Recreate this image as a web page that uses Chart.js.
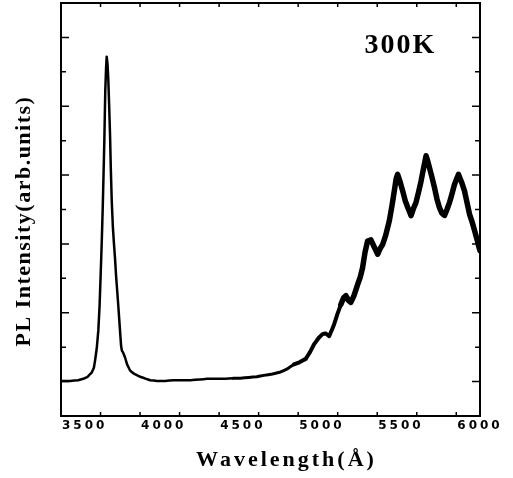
<!DOCTYPE html>
<html>
<head>
<meta charset="utf-8">
<script src="https://cdn.jsdelivr.net/npm/chart.js@4.4.1/dist/chart.umd.min.js"></script>
<style>
  html, body { margin: 0; padding: 0; background: #fff; }
  #wrap { width: 513px; height: 478px; }
</style>
</head>
<body>
<div id="wrap"><canvas id="plChart" width="513" height="478"></canvas></div>
<script>
// PL spectrum at 300K (arb. units)
const wavelength = [
  3350, 3408, 3458, 3491, 3518, 3544, 3558, 3565, 3576, 3586,
  3594, 3601, 3608, 3614, 3619, 3624, 3630, 3635, 3639, 3644,
  3649, 3654, 3660, 3665, 3671, 3678, 3685, 3692, 3698, 3706,
  3713, 3720, 3726, 3730, 3735, 3743, 3755, 3768, 3787, 3808,
  3851, 3888, 3914, 3958, 4008, 4062, 4108, 4168, 4228, 4274,
  4328, 4388, 4438, 4485, 4538, 4588, 4633, 4688, 4739, 4778,
  4823, 4858, 4898, 4923, 4950, 4978, 5004, 5023, 5046, 5063,
  5077, 5098, 5120, 5138, 5151, 5168, 5183, 5203, 5226, 5243,
  5257, 5273, 5289, 5310, 5328, 5353, 5368, 5384, 5403, 5426,
  5443, 5458, 5470, 5479, 5495, 5511, 5528, 5543, 5564, 5580,
  5595, 5611, 5627, 5643, 5659, 5670, 5680, 5696, 5712, 5728,
  5743, 5758, 5775, 5791, 5807, 5823, 5838, 5853, 5864, 5883,
  5902, 5918, 5934, 5950, 5966, 5983, 5995, 6000
];
const intensity = [
  0.01, 0.01, 0.02, 0.04, 0.07, 0.13, 0.20, 0.30, 0.48, 0.74,
  1.10, 1.56, 2.05, 2.53, 3.00, 3.49, 4.22, 4.55, 4.72, 4.62,
  4.40, 4.05, 3.60, 3.10, 2.62, 2.25, 2.00, 1.78, 1.55, 1.30,
  1.08, 0.85, 0.65, 0.52, 0.45, 0.42, 0.35, 0.25, 0.16, 0.12,
  0.07, 0.04, 0.02, 0.01, 0.01, 0.02, 0.02, 0.02, 0.03, 0.04,
  0.04, 0.04, 0.05, 0.05, 0.06, 0.07, 0.09, 0.11, 0.14, 0.18,
  0.25, 0.28, 0.33, 0.42, 0.54, 0.63, 0.69, 0.70, 0.66, 0.75,
  0.83, 0.98, 1.12, 1.22, 1.25, 1.18, 1.15, 1.25, 1.41, 1.52,
  1.65, 1.88, 2.04, 2.06, 1.97, 1.85, 1.93, 1.99, 2.12, 2.33,
  2.55, 2.77, 2.95, 3.01, 2.90, 2.77, 2.62, 2.53, 2.41, 2.52,
  2.60, 2.75, 2.91, 3.10, 3.28, 3.20, 3.11, 2.97, 2.82, 2.65,
  2.53, 2.45, 2.41, 2.50, 2.60, 2.73, 2.86, 2.95, 3.01, 2.90,
  2.77, 2.60, 2.43, 2.32, 2.19, 2.05, 1.94, 1.90
];

const xTicks = [3500, 4000, 4500, 5000, 5500, 6000];
const xMinorStep = 250;
const yMinorStep = 0.5;
const xTitle = 'Wavelength(Å)';
const yTitle = 'PL Intensity(arb.units)';
const tempLabel = '300K';

const points = wavelength.map((w, i) => ({ x: w, y: intensity[i] }));

// ticks pointing inwards on all four sides, frame, labels and titles
const framePlugin = {
  id: 'frame',
  afterDraw(chart) {
    const ctx = chart.ctx;
    const a = chart.chartArea;
    const xs = chart.scales.x;
    const ys = chart.scales.y;
    ctx.save();
    ctx.strokeStyle = '#000';
    ctx.lineWidth = 2;
    ctx.strokeRect(a.left, a.top, a.right - a.left, a.bottom - a.top);

    ctx.lineWidth = 1.5;
    ctx.beginPath();
    for (let v = xs.min; v <= xs.max; v += xMinorStep) {
      const px = xs.getPixelForValue(v);
      const len = v % 500 === 0 ? 7 : 4;
      ctx.moveTo(px, a.bottom); ctx.lineTo(px, a.bottom - len);
      ctx.moveTo(px, a.top); ctx.lineTo(px, a.top + len);
    }
    for (let v = ys.min; v <= ys.max + 1e-6; v += yMinorStep) {
      const py = ys.getPixelForValue(v);
      const len = Math.abs(v - Math.round(v)) < 1e-6 ? 8 : 5;
      ctx.moveTo(a.left, py); ctx.lineTo(a.left + len, py);
      ctx.moveTo(a.right, py); ctx.lineTo(a.right - len, py);
    }
    ctx.stroke();

    ctx.fillStyle = '#000';
    ctx.font = 'bold 12px "DejaVu Sans"';
    ctx.letterSpacing = '3px';
    ctx.textAlign = 'center';
    ctx.textBaseline = 'middle';
    xTicks.forEach(t => {
      ctx.fillText(String(t), xs.getPixelForValue(t), a.bottom + 10);
    });

    ctx.font = 'bold 22px "Liberation Serif"';
    ctx.letterSpacing = '3px';
    ctx.textBaseline = 'alphabetic';
    ctx.fillText(xTitle, (a.left + a.right) / 2 + 16, 466);

    ctx.save();
    ctx.translate(24, 221);
    ctx.rotate(-Math.PI / 2);
    ctx.letterSpacing = '1.5px';
    ctx.textBaseline = 'middle';
    ctx.fillText(yTitle, 0, 0);
    ctx.restore();

    ctx.font = 'bold 28px "Liberation Serif"';
    ctx.letterSpacing = '2px';
    ctx.textAlign = 'left';
    ctx.textBaseline = 'alphabetic';
    ctx.fillText(tempLabel, xs.getPixelForValue(5270), ys.getPixelForValue(4.78));
    ctx.restore();
  }
};

new Chart(document.getElementById('plChart'), {
  type: 'line',
  data: {
    datasets: [{
      data: points,
      borderColor: '#000',
      borderWidth: 2.5,
      borderJoinStyle: 'round',
      borderCapStyle: 'round',
      pointRadius: 0,
      tension: 0.0001, // keeps chart.js off its fast path, which squashes steep points into bars
      fill: false,
      segment: {
        borderWidth: c => {
          const w = c.p0.parsed.x;
          if (w < 4400) return 2.5;
          if (w < 4800) return 3;
          if (w < 5100) return 4;
          return 5.5;
        }
      }
    }]
  },
  options: {
    responsive: false,
    animation: false,
    devicePixelRatio: 1,
    layout: { padding: { top: 3, right: 33, left: 0, bottom: 0 } },
    plugins: { legend: { display: false }, tooltip: { enabled: false } },
    scales: {
      x: {
        type: 'linear',
        min: 3350,
        max: 6000,
        grid: { display: false },
        border: { display: false },
        ticks: { display: false },
        afterFit: s => { s.height = 62; }
      },
      y: {
        type: 'linear',
        min: -0.5,
        max: 5.5,
        grid: { display: false },
        border: { display: false },
        ticks: { display: false },
        afterFit: s => { s.width = 61; }
      }
    }
  },
  plugins: [framePlugin]
});
</script>
</body>
</html>
